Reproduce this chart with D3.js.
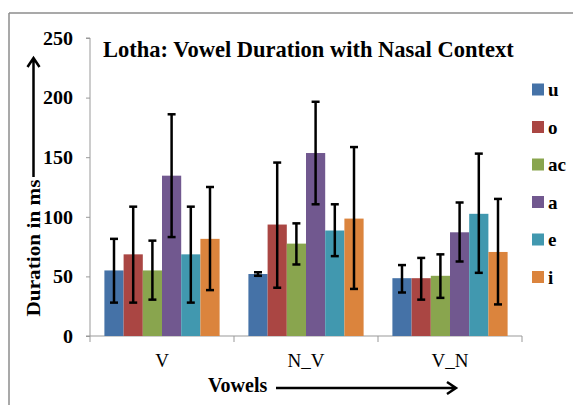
<!DOCTYPE html>
<html>
<head>
<meta charset="utf-8">
<script src="https://cdn.jsdelivr.net/npm/d3@7"></script>
<style>
  html, body { margin: 0; padding: 0; background: #fff; }
  svg { display: block; }
  text { font-family: "Liberation Serif", "Times New Roman", serif; }
</style>
</head>
<body>
<script>
// ---- data ----
const categories = ["V", "N_V", "V_N"];
const series = ["u", "o", "ac", "a", "e", "i"];
const colors = ["#4572A7", "#AA4643", "#89A54E", "#71588F", "#4198AF", "#DB843D"];
// mean durations (ms) per series, in category order
const valU  = [55, 52, 48.5];
const valO  = [68.5, 93.5, 48.5];
const valAC = [55, 77.5, 50.5];
const valA  = [134.5, 153.5, 87];
const valE  = [68.5, 88.5, 102.5];
const valI  = [81.5, 98.5, 70.5];
// error bar upper / lower ends
const hiU  = [81.5, 53.5, 59.5];
const hiO  = [108.5, 145.5, 65.5];
const hiAC = [80, 94.5, 68.5];
const hiA  = [186, 196.5, 112];
const hiE  = [108.5, 110.5, 153];
const hiI  = [125, 158.5, 115];
const loU  = [28, 50.5, 36.5];
const loO  = [28, 40.5, 30.5];
const loAC = [30.5, 60, 32];
const loA  = [83, 110.5, 62.5];
const loE  = [28, 67, 53];
const loI  = [38.5, 39.5, 26.5];
const yTicks = [0, 50, 100, 150, 200, 250];
const titleText = "Lotha: Vowel Duration with Nasal Context";
const yLabel = "Duration in ms";
const xLabel = "Vowels";

const values = [valU, valO, valAC, valA, valE, valI];
const highs = [hiU, hiO, hiAC, hiA, hiE, hiI];
const lows = [loU, loO, loAC, loA, loE, loI];

const rows = [];
categories.forEach((c, ci) => {
  series.forEach((s, si) => {
    rows.push({cat: c, ser: s, si, v: values[si][ci], hi: highs[si][ci], lo: lows[si][ci]});
  });
});

// ---- layout ----
const W = 573, H = 405;
const svg = d3.select("body").append("svg").attr("width", W).attr("height", H);

// outer frame (top + left edges visible)
svg.append("line").attr("x1", 9).attr("y1", 13).attr("x2", W).attr("y2", 13)
  .attr("stroke", "#8c8c8c").attr("stroke-width", 1.5);
svg.append("line").attr("x1", 9).attr("y1", 13).attr("x2", 9).attr("y2", H)
  .attr("stroke", "#8c8c8c").attr("stroke-width", 1.5);

const plotL = 90, plotR = 522, plotT = 38, plotB = 336;
const y = d3.scaleLinear().domain([0, 250]).range([plotB, plotT]);
const x0 = d3.scaleBand().domain(categories).range([plotL, plotR]).padding(0);
const x1 = d3.scaleBand().domain(series).range([0, x0.bandwidth()]).paddingInner(0).paddingOuter(0.75);
const color = d3.scaleOrdinal().domain(series).range(colors);

// y axis
const yAxis = d3.axisLeft(y).tickValues(yTicks).tickSize(4).tickPadding(13);
const gy = svg.append("g").attr("transform", `translate(${plotL},0)`).call(yAxis);
gy.select(".domain").attr("stroke", "#999").attr("d", `M-4,${plotT}H0V${plotB}`);
gy.selectAll(".tick line").attr("stroke", "#999");
gy.selectAll(".tick text").attr("font-size", 18).attr("font-weight", "bold")
  .attr("fill", "#000").attr("dy", "0.35em")
  .attr("textLength", d => String(d).length * 10)
  .attr("lengthAdjust", "spacingAndGlyphs");

// x axis
const xAxis = d3.axisBottom(x0).tickSize(0).tickPadding(20);
const gx = svg.append("g").attr("transform", `translate(0,${plotB})`).call(xAxis);
gx.select(".domain").attr("stroke", "#999").attr("d", `M${plotL - 4},0H${plotR}`);
gx.selectAll(".tick text").attr("font-size", 19).attr("fill", "#000").attr("dy", "0.6em");
// category boundary ticks
const bounds = categories.map(c => x0(c)).concat([plotR]);
gx.selectAll(".bound").data(bounds).enter().append("line")
  .attr("x1", d => d).attr("x2", d => d).attr("y1", 0).attr("y2", 6)
  .attr("stroke", "#999");

// bars
const groups = svg.append("g").selectAll("g").data(rows).enter().append("g");
groups.append("rect")
  .attr("x", d => x0(d.cat) + x1(d.ser))
  .attr("y", d => y(d.v))
  .attr("width", x1.bandwidth())
  .attr("height", d => y(0) - y(d.v))
  .attr("fill", d => color(d.ser));

// error bars
const cx = d => x0(d.cat) + x1(d.ser) + x1.bandwidth() / 2;
groups.append("line")
  .attr("x1", cx).attr("x2", cx)
  .attr("y1", d => y(d.hi)).attr("y2", d => y(d.lo))
  .attr("stroke", "#000").attr("stroke-width", 2.5);
groups.append("line")
  .attr("x1", d => cx(d) - 4).attr("x2", d => cx(d) + 4)
  .attr("y1", d => y(d.hi)).attr("y2", d => y(d.hi))
  .attr("stroke", "#000").attr("stroke-width", 2.5);
groups.append("line")
  .attr("x1", d => cx(d) - 4).attr("x2", d => cx(d) + 4)
  .attr("y1", d => y(d.lo)).attr("y2", d => y(d.lo))
  .attr("stroke", "#000").attr("stroke-width", 2.5);

// title
svg.append("text").attr("x", 103).attr("y", 57)
  .attr("font-size", 22.5).attr("font-weight", "bold").attr("fill", "#000")
  .text(titleText);

// legend
const leg = svg.append("g").selectAll("g").data(series).enter().append("g")
  .attr("transform", (d, i) => `translate(532,${89.5 + i * 37.5})`);
leg.append("rect").attr("x", 0).attr("y", -6).attr("width", 12).attr("height", 12)
  .attr("fill", d => color(d));
leg.append("text").attr("x", 16).attr("y", 0).attr("dy", "0.35em")
  .attr("font-size", 19).attr("font-weight", "bold").attr("fill", "#000")
  .text(d => d);

// y label with arrow
svg.append("text")
  .attr("transform", "translate(40,248) rotate(-90)")
  .attr("text-anchor", "middle")
  .attr("font-size", 19).attr("font-weight", "bold").attr("fill", "#000")
  .attr("textLength", 137).attr("lengthAdjust", "spacingAndGlyphs")
  .text(yLabel);
svg.append("path").attr("d", "M33.5,177V58M27.5,67L33.5,58L39.5,67")
  .attr("fill", "none").attr("stroke", "#000").attr("stroke-width", 2.5);

// x label with arrow
svg.append("text").attr("x", 208).attr("y", 392)
  .attr("font-size", 20).attr("font-weight", "bold").attr("fill", "#000")
  .text(xLabel);
svg.append("path").attr("d", "M276,388H456M447,382L456,388L447,394")
  .attr("fill", "none").attr("stroke", "#000").attr("stroke-width", 2.5);
</script>
</body>
</html>
